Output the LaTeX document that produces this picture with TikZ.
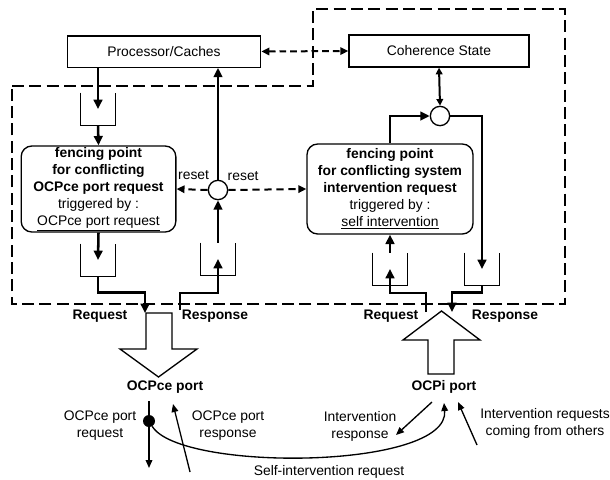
\documentclass[tikz,border=0pt]{standalone}
\usepackage{fontspec}
\setmainfont{Liberation Sans}
\usetikzlibrary{arrows.meta,positioning}

\begin{document}
\begin{tikzpicture}[x=0.75pt, y=-0.75pt, font=\fontsize{10.4}{12.75}\selectfont]
        % Define block styles
        \tikzstyle{block} = [rectangle, draw, line width=1pt, inner sep=0pt, text centered, minimum height=23.5pt, minimum width=145pt]
        \tikzstyle{fence} = [rectangle, draw, line width=1pt, rounded corners=8pt, inner sep=0pt, align=center]
        \tikzstyle{junction} = [circle, draw, line width=1pt, fill=white, inner sep=0pt, minimum size=14.5pt]
        \tikzstyle{dot} = [circle, fill=black, inner sep=0pt, minimum size=9pt]
        \tikzstyle{queue} = [rectangle, inner sep=0pt, minimum width=25.5pt, minimum height=24pt]
        \tikzstyle{arrow} = [-{Triangle[length=7pt,width=6.5pt]}, line width=1.9pt]
        \tikzstyle{linkarrow} = [{Triangle[length=5pt,width=5pt]}-{Triangle[length=5pt,width=5pt]}, line width=1.5pt]
        \tikzstyle{resetarrow} = [-{Triangle[length=6pt,width=5.5pt]}, line width=1.5pt, dash pattern=on 5.5pt off 3.5pt]
        \tikzstyle{syncarrow} = [{Triangle[length=6pt,width=5.5pt]}-{Triangle[length=6pt,width=5.5pt]}, line width=1.5pt, dash pattern=on 5pt off 3pt]
        \tikzstyle{thinarrow} = [-{Triangle[length=6pt,width=5pt]}, line width=1pt]
        \tikzstyle{hollow} = [draw, line width=1pt, line join=miter]
        \tikzstyle{border} = [line width=1.9pt, dash pattern=on 9pt off 4pt]

        \useasboundingbox (0,0) rectangle (610,479);

        % Dashed border
        \draw[border] (12,86) -- (313,86) -- (313,9) -- (565,9) -- (565,304) -- (12,304) -- cycle;

        % Nodes
        \node[block] (proc) at (164,51.5) {Processor/Caches};
        \node[block, minimum width=135pt, minimum height=24pt] (coh) at (439,51) {Coherence State};
        \node[fence, minimum width=116pt, minimum height=64.5pt] (fenceA) at (98.5,189)
            {\textbf{fencing point}\\ \textbf{for conflicting}\\ \textbf{OCPce port request}\\ triggered by :\\ \underline{OCPce port request}};
        \node[fence, minimum width=124.5pt, minimum height=67.5pt] (fenceB) at (390,189)
            {\textbf{fencing point}\\ \textbf{for conflicting system}\\ \textbf{intervention request}\\ triggered by :\\ \underline{self intervention}};
        \node[junction] (circA) at (218,190) {};
        \node[junction] (circB) at (440,116) {};

        \node[queue] (qA1) at (98,109) {};
        \node[queue] (qA2) at (98,260) {};
        \node[queue] (qAr) at (218,259) {};
        \node[queue] (qBr) at (390,269) {};
        \node[queue] (qBs) at (482,269) {};
        \foreach \q in {qA1,qA2,qAr,qBr,qBs}
            \draw[line width=1pt] (\q.north west) |- (\q.south east) -- (\q.north east);

        \coordinate (reqA) at (145,313);
        \coordinate (rspA) at (180,310);
        \coordinate (reqB) at (426,312);
        \coordinate (rspB) at (452,312);

        % Ports
        \draw[hollow] (146,313) -- (172,313) -- (172,349) -- (197,349) -- (158.5,377) -- (120,349) -- (146,349) -- cycle;
        \draw[hollow] (428,374) -- (454,374) -- (454,340) -- (480,340) -- (441.5,311) -- (403,340) -- (428,340) -- cycle;
        \node[font=\fontsize{10.4}{12.75}\selectfont\bfseries] (ocpce) at (165,387) {OCPce port};
        \node[font=\fontsize{10.4}{12.75}\selectfont\bfseries] (ocpi) at (444,387) {OCPi port};
        \node[font=\fontsize{10.4}{12.75}\selectfont\bfseries] (reqAl) at (100,316) {Request};
        \node[font=\fontsize{10.4}{12.75}\selectfont\bfseries] (rspAl) at (215,316) {Response};
        \node[font=\fontsize{10.4}{12.75}\selectfont\bfseries] (reqBl) at (391,316) {Request};
        \node[font=\fontsize{10.4}{12.75}\selectfont\bfseries] (rspBl) at (505,316) {Response};

        \node[dot] (dotA) at (149,421) {};
        \coordinate (outA) at (149,468);
        \coordinate (topA) at (149,401);
        \coordinate (inA) at (190,472);
        \coordinate (endA) at (173,404);
        \coordinate (selfB) at (444,403);
        \coordinate (irspS) at (432,402);
        \coordinate (irspE) at (396,435);
        \coordinate (othS) at (477,445);
        \coordinate (othE) at (458,402);

        \node[align=center] (lreq) at (100,426) {OCPce port\\request};
        \node[align=center] (lrsp) at (228,426) {OCPce port\\response};
        \node[align=center] (lirsp) at (360,426) {Intervention\\response};
        \node[align=center] (loth) at (545,423) {Intervention requests\\coming from others};
        \node (lself) at (329,472) {Self-intervention request};

        % Arrows
        \draw[arrow] (qA1.north |- proc.south) -- (qA1.center);
        \draw[arrow] (qA1.south) -- (fenceA.north);
        \draw[arrow] (fenceA.south) -- (qA2.center);
        \draw[arrow] (qA2.south) -- ++(0,16) -| (reqA);
        \draw[arrow] (rspA) -- ++(0,-17) -| (qAr.center);
        \draw[arrow] (qAr.north) -- (circA.south);
        \draw[arrow] (circA.north) -- (circA |- proc.south);
        \draw[resetarrow] (circA.west) -- (fenceA.east) node[pos=0.45, above=3pt] {reset};
        \draw[resetarrow] (circA.east) -- (fenceB.west) node[pos=0.19, above=3pt] {reset};
        \draw[syncarrow] (proc.east) -- (coh.west);
        \draw[linkarrow] (coh.south) -- (circB.north);
        \draw[arrow] (fenceB.north) |- (circB.west);
        \draw[arrow] (circB.east) -| (qBs.center);
        \draw[arrow] (qBs.south) -- ++(0,7) -| (rspB);
        \draw[arrow] (reqB) -- ++(0,-19) -| (qBr.center);
        \draw[arrow] (qBr.north) -- (fenceB.south);

        \draw[thinarrow] (topA) -- (outA);
        \draw[thinarrow] (inA) -- (endA);
        \draw[thinarrow] (irspS) -- (irspE);
        \draw[thinarrow] (othS) -- (othE);
        \draw[thinarrow] (dotA) .. controls (180,472) and (450,470) .. (selfB);

    \end{tikzpicture}
\end{document}
